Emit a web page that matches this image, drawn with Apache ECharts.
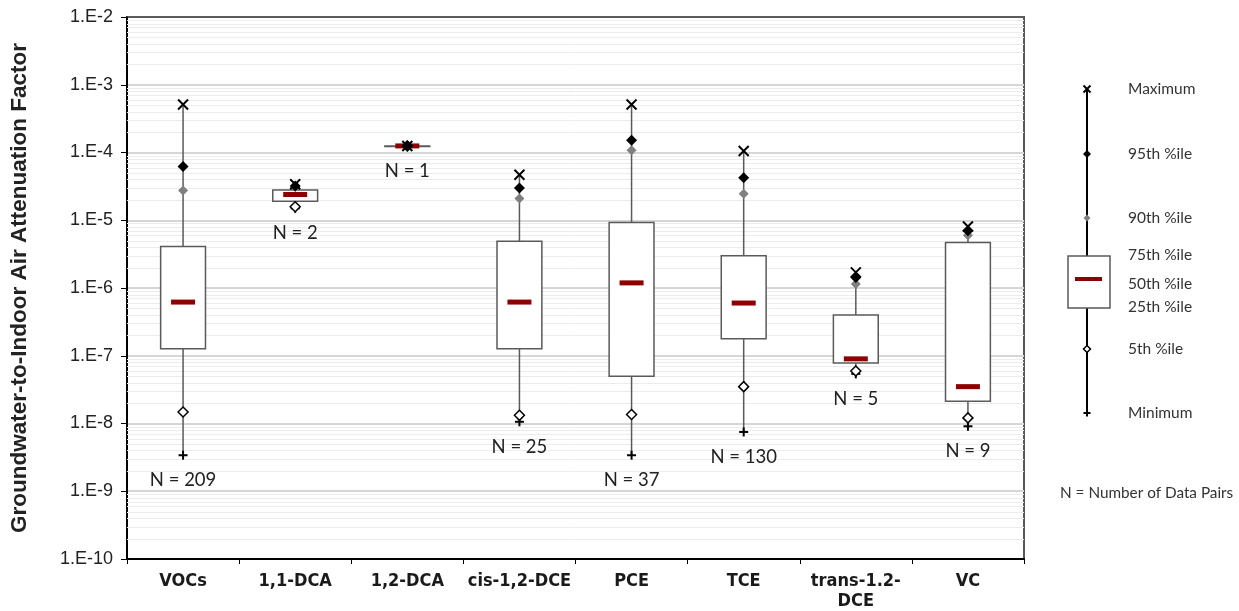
<!DOCTYPE html>
<html><head><meta charset="utf-8">
<script src="https://cdn.jsdelivr.net/npm/echarts@6/dist/echarts.min.js"></script>
<style>html,body{margin:0;padding:0;background:#fff}#c{width:1239px;height:611px}</style>
</head><body><div id="c"></div>
<script>
// ---- data ----
const categories = ['VOCs', '1,1-DCA', '1,2-DCA', 'cis-1,2-DCE', 'PCE', 'TCE', 'trans-1.2-\nDCE', 'VC'];
const minimum = [3.4e-9, 1.5e-5, 1.25e-4, 1.06e-8, 3.4e-9, 7.5e-9, 5.4e-8, 9.1e-9];
const pct5    = [1.48e-8, 1.58e-5, 1.25e-4, 1.32e-8, 1.36e-8, 3.5e-8, 5.95e-8, 1.21e-8];
const pct25   = [1.27e-7, 1.9e-5, 1.25e-4, 1.27e-7, 5.0e-8, 1.78e-7, 7.8e-8, 2.13e-8];
const median  = [6.2e-7, 2.4e-5, 1.25e-4, 6.2e-7, 1.19e-6, 6.0e-7, 9.0e-8, 3.5e-8];
const pct75   = [4.1e-6, 2.8e-5, 1.25e-4, 4.9e-6, 9.3e-6, 3.0e-6, 4.0e-7, 4.7e-6];
const pct90   = [2.76e-5, 3.1e-5, 1.25e-4, 2.1e-5, 1.08e-4, 2.47e-5, 1.15e-6, 6.0e-6];
const pct95   = [6.2e-5, 3.2e-5, 1.25e-4, 3.0e-5, 1.52e-4, 4.24e-5, 1.43e-6, 7.0e-6];
const maximum = [5.1e-4, 3.4e-5, 1.25e-4, 4.7e-5, 5.1e-4, 1.05e-4, 1.7e-6, 8.1e-6];
const nPairs  = [209, 2, 1, 25, 37, 130, 5, 9];
const yTickLabels = ['1.E-10', '1.E-9', '1.E-8', '1.E-7', '1.E-6', '1.E-5', '1.E-4', '1.E-3', '1.E-2'];
const yAxisTitle = 'Groundwater-to-Indoor Air Attenuation Factor';
const legendLabels = ['Maximum', '95th %ile', '90th %ile', '75th %ile', '50th %ile', '25th %ile', '5th %ile', 'Minimum'];
const legendNote = 'N = Number of Data Pairs';

// ---- build ----
const rows = categories.map((c, i) => [i, minimum[i], pct5[i], pct25[i], median[i], pct75[i], pct90[i], pct95[i], maximum[i], nPairs[i]]);
const minorLines = [];
for (let e = -10; e < -2; e++) for (let k = 2; k <= 9; k++) minorLines.push([0, k * Math.pow(10, e)]);

const BOX = '#5a5a5a', MED = '#8f0000', GRAY = '#808080';
const calibri = 'Lato, "Open Sans", sans-serif';

function seg(x1, y1, x2, y2, color) {
  return { type: 'line', shape: { x1: x1, y1: y1, x2: x2, y2: y2 }, style: { stroke: color, lineWidth: 2 } };
}
function xMark(x, y, s, color) {
  return { type: 'group', children: [seg(x - s, y - s, x + s, y + s, color), seg(x + s, y - s, x - s, y + s, color)] };
}
function plusMark(x, y, s, color) {
  return { type: 'group', children: [seg(x - s, y, x + s, y, color), seg(x, y - s, x, y + s, color)] };
}
function diamond(x, y, s, fill, stroke) {
  return { type: 'polygon', shape: { points: [[x, y - s], [x + s, y], [x, y + s], [x - s, y]] },
    style: stroke ? { fill: fill, stroke: stroke, lineWidth: 1.5 } : { fill: fill } };
}

function renderMinor(params, api) {
  const cs = params.coordSys;
  const y = Math.round(api.coord([0, api.value(1)])[1]) + 0.5;
  return { type: 'line', shape: { x1: cs.x, y1: y, x2: cs.x + cs.width, y2: y },
    style: { stroke: '#ececec', lineWidth: 1 }, silent: true };
}

function renderItem(params, api) {
  const i = api.value(0);
  const x = api.coord([i, api.value(4)])[0];
  const Y = v => api.coord([i, v])[1];
  const yMin = Y(api.value(1)), y5 = Y(api.value(2)), yQ1 = Y(api.value(3)), yMed = Y(api.value(4));
  const yQ3 = Y(api.value(5)), y90 = Y(api.value(6)), y95 = Y(api.value(7)), yMax = Y(api.value(8));
  const bw = api.size([1, 0])[0] * 0.4;
  return { type: 'group', children: [
    { type: 'line', shape: { x1: x, y1: yMin, x2: x, y2: yMax }, style: { stroke: BOX, lineWidth: 1.5 } },
    { type: 'rect', shape: { x: x - bw / 2, y: yQ3, width: bw, height: Math.max(yQ1 - yQ3, 0.5) },
      style: { fill: '#fff', stroke: BOX, lineWidth: 1.5 } },
    { type: 'rect', shape: { x: x - 12, y: yMed - 2.5, width: 24, height: 5 }, style: { fill: MED } },
    plusMark(x, yMin, 4.5, '#000'),
    diamond(x, y5, 5, '#fff', '#000'),
    diamond(x, y90, 5, GRAY, null),
    diamond(x, y95, 5.5, '#000', null),
    xMark(x, yMax, 5, '#000'),
    { type: 'text', x: x, y: yMin + 25, style: { text: 'N = ' + api.value(9), fill: '#222',
      font: '18.5px ' + calibri, align: 'center', verticalAlign: 'middle' } }
  ] };
}

// ---- legend key (drawn with graphic) ----
const LX = 1087, LT = 89, LB = 413;
const legendY = [89, 154, 218, 255, 284, 307, 349, 413];
const legendGraphic = [
  { type: 'line', shape: { x1: LX, y1: LT, x2: LX, y2: LB }, style: { stroke: '#000', lineWidth: 2 } },
  { type: 'rect', shape: { x: 1068, y: 256, width: 42, height: 52 }, style: { fill: '#fff', stroke: BOX, lineWidth: 1.5 } },
  { type: 'rect', shape: { x: 1075, y: 277, width: 27, height: 4 }, style: { fill: MED } },
  xMark(LX, 89, 3.5, '#000'),
  diamond(LX, 154, 4, '#000', null),
  diamond(LX, 218, 3.5, GRAY, null),
  diamond(LX, 349, 3.5, '#fff', '#000'),
  plusMark(LX, 413, 3.5, '#000')
];
legendLabels.forEach((t, k) => legendGraphic.push({ type: 'text', x: 1128, y: legendY[k],
  style: { text: t, fill: '#333', font: '15.5px ' + calibri, verticalAlign: 'middle' } }));
legendGraphic.push({ type: 'text', x: 1060, y: 493, style: { text: legendNote, fill: '#333', font: '15.3px ' + calibri, verticalAlign: 'middle' } });

const chart = echarts.init(document.getElementById('c'), null, { renderer: 'canvas' });
chart.setOption({
  animation: false,
  backgroundColor: '#fff',
  grid: { left: 125, right: 215, top: 17, bottom: 50, show: true, borderColor: '#222', borderWidth: 1.5, backgroundColor: 'transparent' },
  xAxis: [{
    type: 'category', data: categories, boundaryGap: true,
    axisLine: { lineStyle: { color: '#000', width: 2 } },
    axisTick: { show: true, length: 5, lineStyle: { color: '#000', width: 1 } },
    axisLabel: { interval: 0, margin: 12, color: '#1a1a1a', fontWeight: 'bold', fontSize: 18, lineHeight: 20,
      fontFamily: '"Liberation Sans Narrow", "Arial Narrow", "DejaVu Sans Condensed", sans-serif' },
    splitLine: { show: false }
  }, {
    type: 'category', data: categories, position: 'top', z: 20,
    axisLine: { show: true, lineStyle: { color: '#333', width: 1.5 } },
    axisTick: { show: false }, axisLabel: { show: false }, splitLine: { show: false }
  }],
  yAxis: {
    type: 'log', logBase: 10, min: 1e-10, max: 1e-2,
    name: yAxisTitle, nameLocation: 'middle', nameGap: 96,
    nameTextStyle: { fontWeight: 'bold', fontSize: 22.5, color: '#222', fontFamily: '"Liberation Sans", Arial, sans-serif' },
    axisLine: { show: true, lineStyle: { color: '#000', width: 2 } },
    axisTick: { show: true, inside: false, length: 6, lineStyle: { color: '#000' } },
    axisLabel: { margin: 14, color: '#222', fontSize: 18, fontFamily: '"Liberation Sans", Arial, sans-serif',
      formatter: v => yTickLabels[Math.round(Math.log10(v)) + 10] },
    splitLine: { show: true, lineStyle: { color: '#d6d6d6', width: 2 } }
  },
  graphic: legendGraphic,
  series: [
    { type: 'custom', renderItem: renderMinor, data: minorLines, z: 1, silent: true, encode: { x: 0, y: 1 } },
    { type: 'custom', renderItem: renderItem, data: rows, z: 5, encode: { x: 0, y: [1, 2, 3, 4, 5, 6, 7, 8] } }
  ]
});
</script></body></html>
